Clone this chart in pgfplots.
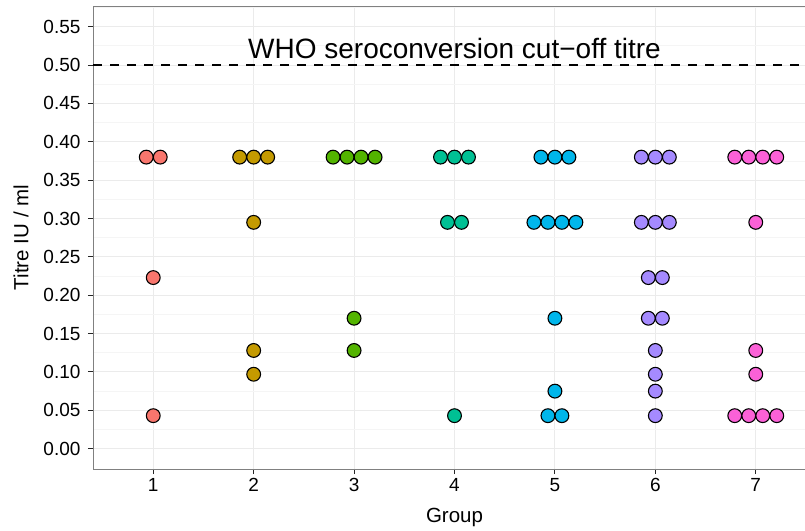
\documentclass[border=0pt]{standalone}
\usepackage{pgfplots}
\pgfplotsset{compat=1.18}
\usepackage{fontspec}
\setmainfont{Liberation Sans}

\definecolor{g1}{HTML}{F8766D}
\definecolor{g2}{HTML}{C49A00}
\definecolor{g3}{HTML}{53B400}
\definecolor{g4}{HTML}{00C094}
\definecolor{g5}{HTML}{00B6EB}
\definecolor{g6}{HTML}{A58AFF}
\definecolor{g7}{HTML}{FB61D7}
\definecolor{gridmaj}{HTML}{EBEBEB}
\definecolor{gridmin}{HTML}{F5F5F5}

\begin{document}
\begin{tikzpicture}[x=1pt,y=1pt]
\useasboundingbox (0,0) rectangle (805,530);
\begin{axis}[
  at={(93pt,61pt)}, anchor=south west,
  scale only axis, width=723pt, height=463pt,
  xmin=0.4, xmax=7.6, ymin=-0.0265, ymax=0.577,
  xtick={1,2,3,4,5,6,7},
  ytick={0,0.05,0.10,0.15,0.20,0.25,0.30,0.35,0.40,0.45,0.50,0.55},
  /pgf/number format/assume math mode=true,
  minor ytick={0.025,0.075,0.125,0.175,0.225,0.275,0.325,0.375,0.425,0.475,0.525,0.575},
  xmajorgrids, ymajorgrids, yminorgrids,
  major grid style={gridmaj, line width=0.9pt},
  minor grid style={gridmin, line width=0.9pt},
  minor tick length=0pt,
  tick pos=left, tick align=outside, major tick length=5pt,
  tick style={black!85, line width=0.9pt},
  axis line style={black!50, line width=0.9pt},
  yticklabel style={/pgf/number format/fixed, /pgf/number format/fixed zerofill,
    /pgf/number format/precision=2, font=\fontsize{19}{21}\selectfont, xshift=-4pt},
  xticklabel style={font=\fontsize{19}{21}\selectfont, yshift=-1pt},
  xlabel={Group}, ylabel={Titre IU / ml},
  every axis x label/.style={at={(axis description cs:0.5,-0.1037)}, anchor=center, font=\fontsize{20.5}{22}\selectfont},
  every axis y label/.style={at={(axis description cs:-0.0996,0.5)}, anchor=center, rotate=90, font=\fontsize{20.5}{22}\selectfont},
  clip=false,
  dots/.style={only marks, mark=*, mark size=6.9pt, mark options={draw=black, line width=1.1pt, fill=#1}},
]
\addplot[black, line width=1.6pt, dash pattern=on 9pt off 8pt] coordinates {(0.4,0.5) (7.6,0.5)};

\addplot[dots=g1] coordinates {
 (0.9303,0.38) (1.0697,0.38) (1,0.223) (1,0.043)};
\addplot[dots=g2] coordinates {
 (1.8606,0.38) (2,0.38) (2.1394,0.38) (2,0.295) (2,0.128) (2,0.097)};
\addplot[dots=g3] coordinates {
 (2.7909,0.38) (2.9303,0.38) (3.0697,0.38) (3.2091,0.38) (3,0.17) (3,0.128)};
\addplot[dots=g4] coordinates {
 (3.8606,0.38) (4,0.38) (4.1394,0.38) (3.9303,0.295) (4.0697,0.295) (4,0.043)};
\addplot[dots=g5] coordinates {
 (4.8606,0.38) (5,0.38) (5.1394,0.38)
 (4.7909,0.295) (4.9303,0.295) (5.0697,0.295) (5.2091,0.295)
 (5,0.17) (5,0.075) (4.9303,0.043) (5.0697,0.043)};
\addplot[dots=g6] coordinates {
 (5.8606,0.38) (6,0.38) (6.1394,0.38)
 (5.8606,0.295) (6,0.295) (6.1394,0.295)
 (5.9303,0.223) (6.0697,0.223) (5.9303,0.17) (6.0697,0.17)
 (6,0.128) (6,0.097) (6,0.075) (6,0.043)};
\addplot[dots=g7] coordinates {
 (6.7909,0.38) (6.9303,0.38) (7.0697,0.38) (7.2091,0.38)
 (7,0.295) (7,0.128) (7,0.097)
 (6.7909,0.043) (6.9303,0.043) (7.0697,0.043) (7.2091,0.043)};

\node[anchor=base, font=\fontsize{28}{30}\selectfont] at (axis cs:4,0.508) {WHO seroconversion cut−off titre};
\end{axis}
\end{tikzpicture}
\end{document}
